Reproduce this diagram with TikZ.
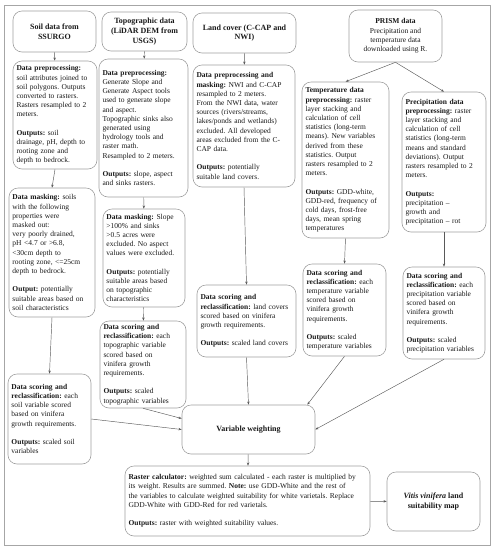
\documentclass[tikz,border=0pt]{standalone}
\usepackage{fontspec}
\setmainfont{Liberation Serif}
\usetikzlibrary{arrows.meta,positioning}

\tikzset{
  box/.style={draw=gray!75, line width=0.6pt, rounded corners=9pt, align=left,
    inner xsep=3.5pt, inner ysep=3pt, font=\fontsize{7.5}{9.2}\selectfont\frenchspacing, text=black!90},
  titlebox/.style={box, align=center, font=\fontsize{8}{9.6}\selectfont\bfseries},
  arr/.style={-{Stealth[length=3.2pt,width=2.4pt]}, draw=black!65, line width=0.45pt}
}

\begin{document}
\begin{tikzpicture}[x=1pt, y=-1pt]
  \useasboundingbox (0,0) rectangle (496,550);
  \draw[gray!70, line width=0.9pt] (4,5) rectangle (490,545);

  % sources
  \node[titlebox, minimum width=83pt, minimum height=41pt] (soildata) at (54.5,31.5) {Soil data from\\SSURGO};
  \node[titlebox, minimum width=85pt, minimum height=39pt] (topodata) at (144.5,31.5) {Topographic data\\(LiDAR DEM from\\USGS)};
  \node[titlebox, minimum width=103pt, minimum height=40pt] (lcdata) at (244.5,33) {Land cover (C-CAP and\\NWI)};
  \node[titlebox, font=\fontsize{7.5}{9.2}\selectfont\frenchspacing, minimum width=93pt, minimum height=52pt] (prism) at (395.5,36)
    {\textbf{PRISM data}\\Precipitation and\\temperature data\\downloaded using R.};

  % preprocessing
  \node[box, text width=77pt, minimum height=108pt] (soilpre) at (55,115)
    {\textbf{Data preprocessing:}\\soil attributes joined to\\soil polygons. Outputs\\converted to rasters.\\Rasters resampled to 2\\meters.\\[9.2pt]
     \textbf{Outputs:} soil\\drainage, pH, depth to\\rooting zone and\\depth to bedrock.};
  \node[box, text width=82pt, minimum height=138pt] (topopre) at (143.5,128)
    {\textbf{Data preprocessing:}\\Generate Slope and\\Generate Aspect tools\\used to generate slope\\and aspect.\\Topographic sinks also\\generated using\\hydrology tools and\\raster math.\\Resampled to 2 meters.\\[9.2pt]
     \textbf{Outputs:} slope, aspect\\and sinks rasters.};
  \node[box, text width=95pt, minimum height=122pt] (lcpre) at (244,126)
    {\textbf{Data preprocessing and}\\\textbf{masking:} NWI and C-CAP\\resampled to 2 meters.\\From the NWI data, water\\sources (rivers/streams,\\lakes/ponds and wetlands)\\excluded. All developed\\areas excluded from the C-\\CAP data.\\[9.2pt]
     \textbf{Outputs:} potentially\\suitable land covers.};
  \node[box, text width=80pt, minimum height=156pt] (temppre) at (345.5,160)
    {\textbf{Temperature data}\\\textbf{preprocessing:} raster\\layer stacking and\\calculation of  cell\\statistics (long-term\\means). New variables\\derived from these\\statistics. Output\\rasters resampled to 2\\meters.\\[9.2pt]
     \textbf{Outputs:} GDD-white,\\GDD-red, frequency of\\cold days, frost-free\\days, mean spring\\temperatures};
  \node[box, text width=77pt, minimum height=140pt] (precippre) at (444,162)
    {\textbf{Precipitation data}\\\textbf{preprocessing:} raster\\layer stacking and\\calculation of  cell\\statistics (long-term\\means and standard\\deviations).  Output\\rasters resampled to 2\\meters.\\[9.2pt]
     \textbf{Outputs:}\\precipitation --\\growth and\\precipitation -- rot};

  % masking
  \node[box, text width=79pt, minimum height=129pt] (soilmask) at (52,252.5)
    {\textbf{Data masking:} soils\\with the following\\properties were\\masked out:\\very poorly drained,\\pH <4.7 or >6.8,\\<30cm  depth to\\rooting zone, <=25cm\\depth to bedrock.\\[9.2pt]
     \textbf{Output:} potentially\\suitable areas based on\\soil characteristics};
  \node[box, text width=75pt, minimum height=98pt] (topomask) at (144,258)
    {\textbf{Data masking:} Slope\\>100\% and sinks\\>0.5 acres were\\excluded. No aspect\\values were excluded.\\[9.2pt]
     \textbf{Outputs:} potentially\\suitable areas based\\on topographic\\characteristics};

  % scoring
  \node[box, text width=79pt, minimum height=87pt] (toposcore) at (143,364.5)
    {\textbf{Data scoring and}\\\textbf{reclassification:} each\\topographic variable\\scored based on\\vinifera growth\\requirements.\\[9.2pt]
     \textbf{Outputs:} scaled\\topographic variables};
  \node[box, text width=92pt, minimum height=72pt] (lcscore) at (246.5,321)
    {\textbf{Data scoring and}\\\textbf{reclassification:} land covers\\scored based on vinifera\\growth requirements.\\[9.2pt]
     \textbf{Outputs:} scaled land covers};
  \node[box, text width=76pt, minimum height=92pt] (tempscore) at (344.5,310)
    {\textbf{Data scoring and}\\\textbf{reclassification:} each\\temperature variable\\scored based on\\vinifera growth\\requirements.\\[9.2pt]
     \textbf{Outputs:} scaled\\temperature variables};
  \node[box, text width=75pt, minimum height=92pt] (precipscore) at (444,313)
    {\textbf{Data scoring and}\\\textbf{reclassification:} each\\precipitation variable\\scored based on\\vinifera growth\\requirements.\\[9.2pt]
     \textbf{Outputs:} scaled\\precipitation variables};
  \node[box, text width=76pt, minimum height=90pt] (soilscore) at (49.5,419)
    {\textbf{Data scoring and}\\\textbf{reclassification:} each\\soil variable scored\\based on vinifera\\growth requirements.\\[9.2pt]
     \textbf{Outputs:} scaled soil\\variables};

  % weighting and result
  \node[titlebox, minimum width=133pt, minimum height=49pt] (weighting) at (248.5,429.5) {Variable weighting};
  \node[box, text width=238pt, minimum height=70pt] (rastercalc) at (247.5,501)
    {\textbf{Raster calculator:} weighted sum calculated - each raster is multiplied by\\its weight. Results are summed. \textbf{Note:} use GDD-White and the rest of\\the variables to calculate weighted suitability for white varietals. Replace\\GDD-White with GDD-Red for red varietals.\\[9.2pt]
     \textbf{Outputs:} raster with weighted suitability values.};
  \node[titlebox, minimum width=93pt, minimum height=59pt] (vitis) at (433.5,501.5) {\textit{Vitis vinifera} land\\suitability map};

  % connectors
  \draw[arr] (soildata) -- (soilpre);
  \draw[arr] (soilpre.south) -- (soilmask.north);
  \draw[arr] (soilmask.south) -- (soilscore.north);
  \draw[arr] (topodata) -- (topopre);
  \draw[arr] (topopre) -- (topomask);
  \draw[arr] (topomask) -- (toposcore);
  \draw[arr] (lcdata) -- (lcpre);
  \draw[arr] (lcpre.south) -- (lcscore.north);
  \draw[arr] (prism.south) -- (temppre.north);
  \draw[arr] (prism.south) -- (precippre.north);
  \draw[arr] (temppre.south) -- (tempscore.north);
  \draw[arr] (precippre.south) -- (precipscore.north);
  \draw[arr] (soilscore.east) -- (weighting.west);
  \draw[arr] (toposcore.south) -- ([yshift=11pt]weighting.west);
  \draw[arr] (lcscore.south) -- (weighting.north);
  \draw[arr] (tempscore.south) -- ([xshift=-8pt]weighting.north east);
  \draw[arr] (precipscore.south) -- (weighting.east);
  \draw[arr] (weighting) -- (rastercalc);
  \draw[arr] (rastercalc) -- (vitis);
\end{tikzpicture}
\end{document}
